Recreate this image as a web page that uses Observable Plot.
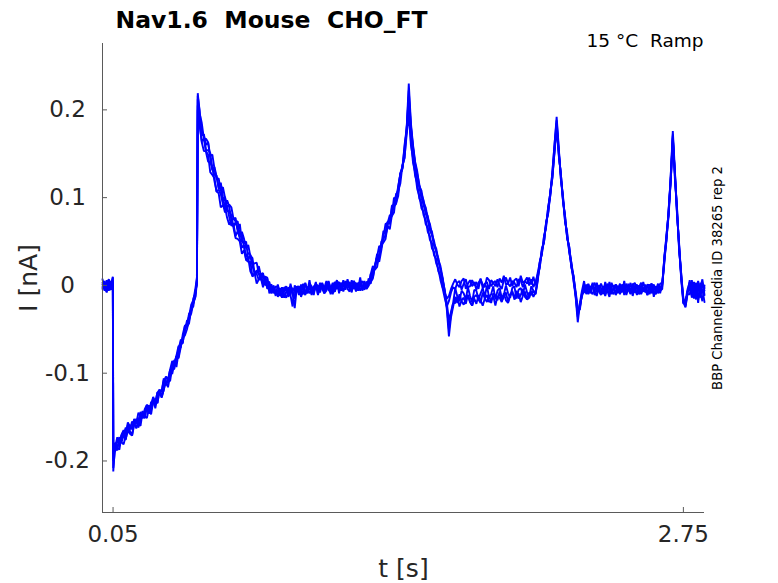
<!DOCTYPE html>
<html><head><meta charset="utf-8">
<script src="https://cdn.jsdelivr.net/npm/d3@7"></script>
<script src="https://cdn.jsdelivr.net/npm/@observablehq/plot@0.6"></script>
<style>html,body{margin:0;padding:0;background:#fff;} #chart svg{display:block}</style>
</head><body><div id="chart"></div>
<script>
// sample times (s)
const t = [
0, 0.01, 0.02, 0.03, 0.04, 0.049,
0.051,
0.06, 0.07, 0.08, 0.09, 0.10, 0.11, 0.12, 0.13, 0.14, 0.15, 0.16, 0.17, 0.18, 0.19, 0.20, 0.21, 0.22, 0.23, 0.24, 0.25, 0.26, 0.27, 0.28, 0.29, 0.30, 0.31, 0.32, 0.33, 0.34, 0.35, 0.36, 0.37, 0.38, 0.39, 0.40, 0.41, 0.42, 0.43, 0.44,
0.447, 0.451,
0.46, 0.47, 0.48, 0.49, 0.50, 0.51, 0.52, 0.53, 0.54, 0.55, 0.56, 0.57, 0.58, 0.59, 0.60, 0.61, 0.62, 0.63, 0.64, 0.65, 0.66, 0.67, 0.68, 0.69, 0.70, 0.71, 0.72, 0.73, 0.74, 0.75, 0.76, 0.77, 0.78, 0.79, 0.80, 0.81, 0.82,
0.83, 0.84, 0.85, 0.86, 0.87, 0.88, 0.89, 0.90, 0.91, 0.92, 0.93, 0.94, 0.95, 0.96, 0.97, 0.98, 0.99, 1.00, 1.01, 1.02, 1.03, 1.04, 1.05, 1.06, 1.07, 1.08, 1.09, 1.10, 1.11, 1.12, 1.13, 1.14, 1.15, 1.16, 1.17, 1.18, 1.19, 1.20, 1.21, 1.22, 1.23, 1.24, 1.25,
1.26, 1.27, 1.28, 1.29, 1.30, 1.31, 1.32, 1.33, 1.34, 1.35, 1.36, 1.37, 1.38, 1.39, 1.40, 1.41, 1.42, 1.43, 1.44, 1.45,
1.46, 1.47, 1.48, 1.49, 1.50, 1.51, 1.52, 1.53, 1.54, 1.55, 1.56, 1.57, 1.58, 1.59, 1.60, 1.61, 1.62, 1.63, 1.64, 1.65, 1.66,
1.67, 1.68, 1.69, 1.70, 1.71, 1.72, 1.73, 1.74, 1.75, 1.76, 1.77, 1.78, 1.79, 1.80, 1.81, 1.82, 1.83, 1.84, 1.85, 1.86, 1.87, 1.88, 1.89, 1.90, 1.91, 1.92, 1.93, 1.94, 1.95, 1.96, 1.97, 1.98, 1.99, 2.00, 2.01, 2.02, 2.03, 2.04, 2.05,
2.06, 2.07, 2.08, 2.09, 2.10, 2.11, 2.12, 2.13, 2.14, 2.15,
2.16, 2.17, 2.18, 2.19, 2.20, 2.21, 2.22, 2.23, 2.24, 2.25, 2.26, 2.27,
2.28, 2.29, 2.30, 2.31, 2.32, 2.33, 2.34, 2.35, 2.36, 2.37, 2.38, 2.39, 2.40, 2.41, 2.42, 2.43, 2.44, 2.45, 2.46, 2.47, 2.48, 2.49, 2.50, 2.51, 2.52, 2.53, 2.54, 2.55, 2.56, 2.57, 2.58, 2.59, 2.60, 2.61, 2.62, 2.63, 2.64,
2.65, 2.66, 2.67, 2.68, 2.69, 2.70,
2.71, 2.72, 2.73, 2.74, 2.75, 2.76, 2.77,
2.78, 2.79, 2.80, 2.81, 2.82, 2.83, 2.84, 2.85
];

// current traces (nA), one per sweep
const sweepA = [
0.003, -0.004, 0.006, -0.002, -0.005, 0.009,
-0.208,
-0.185, -0.188, -0.175, -0.179, -0.181, -0.171, -0.164, -0.169, -0.171, -0.159, -0.155, -0.158, -0.160, -0.144, -0.149, -0.151, -0.140, -0.147, -0.132, -0.132, -0.134, -0.120, -0.128, -0.119, -0.110, -0.116, -0.103, -0.096, -0.095, -0.081, -0.083, -0.071, -0.059, -0.057, -0.050, -0.038, -0.032, -0.020, -0.013,
0.003, 0.219,
0.196, 0.185, 0.167, 0.167, 0.163, 0.148, 0.149, 0.133, 0.121, 0.122, 0.108, 0.112, 0.100, 0.089, 0.092, 0.089, 0.076, 0.073, 0.073, 0.057, 0.061, 0.053, 0.042, 0.046, 0.033, 0.024, 0.025, 0.026, 0.013, 0.013, 0.014, 0.000, 0.004, 0.004, -0.007, -0.007, -0.001,
-0.002, -0.008, -0.011, -0.004, -0.001, -0.013, -0.007, -0.003, -0.007, -0.002, -0.011, -0.003, 0.001, -0.006, -0.009, 0.002, -0.001, -0.008, -0.002, 0.000, -0.008, 0.002, -0.003, 0.005, -0.005, -0.004, 0.003, -0.007, 0.001, 0.003, -0.006, 0.006, -0.002, 0.000, 0.004, -0.004, 0.002, -0.007, 0.003, 0.001, 0.005, -0.001, -0.004,
0.000, 0.013, 0.022, 0.019, 0.033, 0.045, 0.043, 0.055, 0.070, 0.071, 0.080, 0.080, 0.100, 0.098, 0.113, 0.127, 0.133, 0.160, 0.179, 0.230,
0.185, 0.160, 0.141, 0.130, 0.113, 0.108, 0.094, 0.089, 0.076, 0.070, 0.058, 0.050, 0.038, 0.031, 0.018, 0.008, -0.008, -0.027, -0.058, -0.036, -0.024,
-0.013, -0.020, -0.010, -0.018, -0.022, -0.015, -0.011, -0.019, -0.023, -0.013, -0.011, -0.016, -0.020, -0.008, -0.015, -0.019, -0.011, -0.020, -0.009, -0.012, -0.017, -0.007, -0.018, -0.013, -0.008, -0.019, -0.010, -0.008, -0.014, -0.006, -0.015, -0.011, -0.004, -0.013, -0.016, -0.008, -0.011, -0.006, -0.010,
0.006, 0.027, 0.035, 0.056, 0.066, 0.090, 0.102, 0.130, 0.160, 0.192,
0.157, 0.121, 0.102, 0.072, 0.060, 0.037, 0.026, 0.005, -0.013, -0.042, -0.022, -0.012,
-0.006, 0.001, -0.010, -0.003, 0.000, -0.007, 0.003, -0.005, -0.009, -0.001, -0.008, 0.002, -0.004, -0.010, -0.002, 0.001, -0.007, -0.005, 0.000, -0.011, -0.001, -0.003, -0.008, 0.002, -0.006, -0.009, -0.002, 0.003, -0.007, -0.004, 0.000, -0.010, -0.003, 0.001, -0.008, -0.006, 0.002,
0.003, 0.028, 0.058, 0.080, 0.125, 0.176,
0.130, 0.083, 0.045, 0.008, -0.016, -0.024, -0.006,
-0.002, -0.012, 0.004, -0.009, -0.001, -0.014, 0.003, -0.006
];
const sweepB = [
-0.002, 0.005, -0.006, 0.004, 0.001, 0.006,
-0.192,
-0.184, -0.173, -0.181, -0.170, -0.165, -0.169, -0.156, -0.161, -0.163, -0.152, -0.157, -0.145, -0.149, -0.151, -0.141, -0.136, -0.140, -0.136, -0.127, -0.135, -0.122, -0.119, -0.121, -0.106, -0.110, -0.108, -0.096, -0.086, -0.090, -0.080, -0.069, -0.071, -0.056, -0.046, -0.044, -0.035, -0.022, -0.017, -0.003,
0.008, 0.212,
0.182, 0.163, 0.153, 0.153, 0.149, 0.129, 0.126, 0.122, 0.107, 0.105, 0.089, 0.091, 0.089, 0.077, 0.069, 0.074, 0.066, 0.054, 0.053, 0.050, 0.036, 0.040, 0.029, 0.031, 0.016, 0.011, 0.014, 0.002, 0.007, 0.008, -0.002, 0.008, -0.001, -0.001, 0.001, -0.009, -0.005,
-0.013, -0.006, -0.004, -0.014, -0.007, -0.002, -0.011, -0.024, 0.000, -0.006, -0.002, -0.010, 0.002, -0.009, -0.005, -0.003, -0.011, -0.001, -0.001, -0.005, 0.003, -0.004, -0.009, 0.001, 0.004, -0.003, -0.006, -0.007, 0.004, 0.003, -0.006, 0.001, -0.002, 0.005, -0.003, 0.006, -0.004, 0.000, -0.005, 0.002, 0.004, 0.003, -0.002,
0.003, 0.002, 0.019, 0.018, 0.021, 0.035, 0.046, 0.049, 0.053, 0.069, 0.076, 0.079, 0.083, 0.104, 0.108, 0.116, 0.137, 0.145, 0.178, 0.205,
0.165, 0.140, 0.129, 0.110, 0.102, 0.088, 0.084, 0.070, 0.066, 0.052, 0.048, 0.034, 0.030, 0.016, 0.011, -0.002, -0.008, -0.015, -0.012, -0.004, 0.002,
0.007, 0.001, -0.002, 0.005, 0.008, -0.004, 0.002, 0.006, -0.001, 0.004, -0.005, 0.003, 0.007, 0.001, -0.002, 0.009, 0.006, -0.001, 0.003, 0.005, -0.002, 0.008, 0.003, 0.011, 0.001, 0.002, 0.009, -0.001, 0.006, 0.008, -0.001, 0.011, 0.003, 0.005, 0.009, 0.000, 0.007, -0.002, 0.004,
0.012, 0.020, 0.042, 0.049, 0.072, 0.082, 0.107, 0.122, 0.153, 0.185,
0.150, 0.127, 0.096, 0.078, 0.054, 0.043, 0.020, 0.010, -0.007, -0.026, -0.028, -0.008,
-0.008, -0.001, 0.001, -0.009, -0.002, 0.003, -0.006, -0.005, 0.002, -0.004, 0.000, -0.008, 0.004, -0.007, -0.003, -0.001, -0.009, 0.001, -0.002, -0.006, 0.002, -0.005, -0.010, 0.000, 0.003, -0.004, -0.007, -0.001, -0.003, -0.008, 0.001, 0.000, -0.009, -0.002, -0.005, 0.002, -0.006,
-0.004, 0.034, 0.052, 0.085, 0.118, 0.170,
0.121, 0.088, 0.039, 0.013, -0.020, -0.016, -0.010,
-0.010, 0.002, -0.015, -0.004, 0.005, -0.008, -0.018, 0.000
];
const sweepC = [
0.001, -0.006, 0.002, 0.007, -0.003, 0.004,
-0.200,
-0.180, -0.182, -0.182, -0.171, -0.166, -0.175, -0.166, -0.159, -0.164, -0.156, -0.163, -0.153, -0.147, -0.150, -0.151, -0.138, -0.137, -0.142, -0.134, -0.129, -0.134, -0.119, -0.121, -0.108, -0.114, -0.108, -0.096, -0.101, -0.089, -0.080, -0.082, -0.062, -0.062, -0.052, -0.040, -0.040, -0.026, -0.024, -0.006,
0.001, 0.205,
0.182, 0.176, 0.171, 0.154, 0.154, 0.151, 0.133, 0.126, 0.125, 0.112, 0.109, 0.095, 0.101, 0.085, 0.084, 0.080, 0.067, 0.072, 0.064, 0.055, 0.057, 0.044, 0.033, 0.037, 0.035, 0.022, 0.014, 0.017, 0.013, 0.006, 0.012, 0.008, -0.004, 0.000, -0.005, 0.000, -0.010,
-0.005, -0.012, -0.002, -0.010, -0.014, -0.007, -0.003, -0.011, -0.012, -0.003, -0.001, -0.006, -0.010, 0.002, -0.005, -0.009, -0.002, -0.011, 0.002, -0.001, -0.006, 0.003, -0.008, -0.004, 0.001, -0.010, -0.002, 0.000, -0.003, 0.004, -0.005, -0.001, 0.005, -0.004, -0.007, 0.001, -0.002, 0.003, -0.006, 0.002, -0.005, 0.005, -0.003,
0.000, 0.013, 0.009, 0.023, 0.033, 0.033, 0.050, 0.053, 0.057, 0.072, 0.070, 0.088, 0.090, 0.093, 0.112, 0.127, 0.133, 0.152, 0.179, 0.215,
0.180, 0.156, 0.137, 0.121, 0.112, 0.099, 0.092, 0.082, 0.074, 0.063, 0.057, 0.045, 0.039, 0.027, 0.019, 0.006, -0.005, -0.020, -0.040, -0.030, -0.020,
-0.020, -0.013, -0.024, -0.017, -0.014, -0.021, -0.011, -0.019, -0.023, -0.015, -0.021, -0.011, -0.017, -0.023, -0.015, -0.011, -0.019, -0.017, -0.012, -0.023, -0.012, -0.014, -0.019, -0.009, -0.017, -0.020, -0.012, -0.006, -0.016, -0.013, -0.009, -0.019, -0.012, -0.007, -0.016, -0.014, -0.006, -0.013, -0.008,
0.008, 0.021, 0.039, 0.050, 0.070, 0.083, 0.103, 0.125, 0.152, 0.178,
0.152, 0.125, 0.100, 0.076, 0.055, 0.041, 0.025, 0.010, -0.011, -0.033, -0.024, -0.011,
0.000, -0.006, -0.009, -0.002, 0.001, -0.011, -0.005, -0.001, -0.008, -0.003, -0.012, -0.004, 0.000, -0.007, -0.010, 0.001, -0.002, -0.009, -0.005, -0.003, -0.011, -0.001, -0.006, 0.002, -0.008, -0.007, 0.000, -0.010, -0.004, -0.002, -0.011, 0.001, -0.007, -0.005, -0.001, -0.009, -0.003,
0.001, 0.026, 0.054, 0.079, 0.119, 0.165,
0.128, 0.082, 0.044, 0.006, -0.021, -0.018, -0.004,
0.004, -0.009, -0.003, -0.016, 0.002, -0.011, -0.004, -0.019
];
const sweepD = [
-0.004, 0.002, -0.001, -0.006, 0.005, 0.002,
-0.188,
-0.189, -0.178, -0.173, -0.179, -0.170, -0.162, -0.168, -0.164, -0.155, -0.158, -0.152, -0.158, -0.144, -0.151, -0.145, -0.141, -0.145, -0.133, -0.132, -0.133, -0.122, -0.124, -0.126, -0.111, -0.104, -0.106, -0.104, -0.093, -0.089, -0.087, -0.071, -0.064, -0.065, -0.050, -0.045, -0.032, -0.029, -0.015, -0.009,
0.006, 0.200,
0.184, 0.164, 0.167, 0.152, 0.141, 0.140, 0.135, 0.119, 0.107, 0.109, 0.104, 0.093, 0.083, 0.090, 0.078, 0.068, 0.070, 0.056, 0.062, 0.054, 0.043, 0.046, 0.029, 0.027, 0.027, 0.010, 0.013, 0.013, 0.006, 0.012, 0.001, 0.003, 0.008, -0.004, -0.009, -0.003, -0.008,
-0.010, -0.003, -0.014, -0.007, -0.004, -0.011, -0.001, -0.009, -0.026, -0.002, -0.009, 0.001, -0.005, -0.011, -0.003, 0.000, -0.008, -0.006, 0.001, -0.010, 0.000, -0.002, -0.007, 0.003, -0.005, -0.008, -0.001, 0.004, -0.004, -0.001, 0.003, -0.007, 0.000, 0.004, -0.005, -0.003, 0.005, -0.002, 0.002, -0.006, 0.001, -0.005, 0.004,
0.004, 0.004, 0.008, 0.022, 0.032, 0.027, 0.040, 0.055, 0.056, 0.068, 0.064, 0.080, 0.092, 0.094, 0.102, 0.125, 0.136, 0.146, 0.172, 0.195,
0.160, 0.145, 0.125, 0.116, 0.099, 0.094, 0.080, 0.075, 0.061, 0.056, 0.042, 0.038, 0.025, 0.019, 0.006, -0.003, -0.014, -0.024, -0.018, -0.008, -0.002,
-0.004, 0.003, 0.005, -0.005, 0.002, 0.007, -0.002, -0.001, 0.006, 0.000, 0.004, -0.004, 0.008, -0.003, 0.002, 0.004, -0.004, 0.006, 0.003, -0.001, 0.007, 0.000, -0.004, 0.006, 0.009, 0.002, -0.001, 0.005, 0.003, -0.002, 0.007, 0.006, -0.002, 0.005, 0.002, 0.009, 0.001, 0.010, 0.000,
0.014, 0.026, 0.036, 0.055, 0.068, 0.089, 0.105, 0.129, 0.161, 0.188,
0.155, 0.122, 0.098, 0.073, 0.058, 0.038, 0.022, 0.006, -0.010, -0.028, -0.026, -0.009,
-0.001, -0.008, 0.002, -0.006, -0.010, -0.003, 0.001, -0.007, -0.011, -0.002, 0.000, -0.005, -0.009, 0.003, -0.004, -0.008, -0.001, -0.010, 0.001, -0.002, -0.007, 0.002, -0.009, -0.005, 0.000, -0.011, -0.003, -0.001, -0.006, 0.001, -0.008, -0.004, 0.002, -0.007, -0.010, -0.002, -0.005,
-0.001, 0.032, 0.057, 0.083, 0.124, 0.172,
0.124, 0.087, 0.041, 0.012, -0.015, -0.022, -0.007,
-0.005, 0.006, -0.012, -0.002, -0.020, 0.003, -0.008, -0.003
];
const sweepE = [
0.007, -0.003, -0.008, 0.004, 0.001, 0.010,
-0.212,
-0.179, -0.185, -0.187, -0.171, -0.172, -0.176, -0.159, -0.166, -0.171, -0.154, -0.154, -0.162, -0.153, -0.143, -0.151, -0.136, -0.146, -0.140, -0.128, -0.140, -0.127, -0.119, -0.127, -0.119, -0.104, -0.108, -0.109, -0.093, -0.085, -0.093, -0.076, -0.066, -0.066, -0.046, -0.047, -0.043, -0.025, -0.020, -0.012,
0.009, 0.216,
0.199, 0.171, 0.172, 0.160, 0.163, 0.145, 0.131, 0.135, 0.124, 0.110, 0.117, 0.101, 0.088, 0.097, 0.090, 0.074, 0.076, 0.077, 0.062, 0.070, 0.050, 0.048, 0.050, 0.029, 0.034, 0.031, 0.014, 0.014, 0.022, 0.011, 0.002, 0.010, 0.009, -0.009, -0.002, -0.002, -0.012,
0.001, -0.009, -0.014, -0.002, -0.005, -0.012, 0.002, -0.008, -0.015, -0.001, -0.003, -0.013, -0.006, 0.003, -0.007, 0.006, -0.008, -0.004, 0.004, -0.011, -0.001, 0.002, -0.009, -0.006, 0.005, -0.004, -0.010, 0.001, 0.006, -0.009, 0.001, 0.003, -0.005, 0.007, -0.002, -0.008, 0.005, 0.000, -0.004, 0.009, -0.006, 0.002, -0.003,
0.008, 0.004, 0.020, 0.022, 0.036, 0.031, 0.046, 0.062, 0.060, 0.073, 0.071, 0.091, 0.091, 0.104, 0.106, 0.128, 0.135, 0.157, 0.177, 0.222,
0.182, 0.158, 0.139, 0.127, 0.115, 0.104, 0.097, 0.085, 0.079, 0.066, 0.061, 0.047, 0.042, 0.029, 0.022, 0.009, -0.006, -0.024, -0.050, -0.033, -0.020,
-0.003, -0.013, -0.018, -0.006, -0.009, -0.016, -0.002, -0.012, -0.019, -0.005, -0.006, -0.016, -0.009, -0.003, -0.013, 0.000, -0.014, -0.010, -0.001, -0.016, -0.006, -0.003, -0.014, -0.011, 0.000, -0.009, -0.014, -0.003, -0.001, -0.015, -0.005, -0.003, -0.011, 0.001, -0.008, -0.014, -0.001, -0.006, -0.010,
0.004, 0.025, 0.040, 0.049, 0.071, 0.084, 0.106, 0.124, 0.155, 0.182,
0.148, 0.127, 0.097, 0.079, 0.053, 0.044, 0.021, 0.011, -0.012, -0.036, -0.020, -0.006,
0.005, -0.010, -0.002, -0.007, 0.003, -0.007, -0.012, 0.000, -0.003, -0.010, 0.004, -0.006, -0.013, 0.001, -0.001, -0.011, -0.004, 0.002, -0.008, 0.005, -0.009, -0.005, 0.003, -0.012, -0.002, 0.001, -0.010, -0.007, 0.004, -0.005, -0.011, 0.000, 0.002, -0.013, -0.003, -0.001, -0.009,
0.002, 0.030, 0.051, 0.086, 0.120, 0.168,
0.127, 0.080, 0.047, 0.009, -0.019, -0.025, -0.009,
0.006, -0.014, -0.006, 0.003, -0.016, -0.003, 0.007, -0.011
];

const yTicks = [-0.2, -0.1, 0, 0.1, 0.2];
const yTickLabels = ["-0.2", "-0.1", "0", "0.1", "0.2"];
const xTicks = [0.05, 2.75];
const xTickLabels = ["0.05", "2.75"];
const titleText = "Nav1.6\u00a0\u00a0Mouse\u00a0\u00a0CHO_FT";
const subtitleText = "15 °C\u00a0\u00a0Ramp";
const sideNote = "BBP Channelpedia ID 38265 rep 2";
const xLabel = "t [s]";
const yLabel = "I [nA]";

const sweeps = [sweepA, sweepB, sweepC, sweepD, sweepE];
sweeps.forEach((s, k) => { if (s.length !== t.length) throw new Error(`sweep ${k}: ${s.length} values vs ${t.length} times`); });
const rows = sweeps.flatMap((s, k) => s.map((v, j) => ({t: t[j], i: v, sweep: k})));

const W = 778, H = 583, mL = 102, mR = 74, mT = 43, mB = 71;
const xDom = [0, 2.85], yDom = [-0.2587, 0.2756];
const tickPx = 5;
const xTickLen = tickPx * (yDom[1] - yDom[0]) / (H - mT - mB);
const yTickLen = tickPx * (xDom[1] - xDom[0]) / (W - mL - mR);
const ink = "#262626";
const axisInk = "#5a5a5a";

const chart = Plot.plot({
  width: W, height: H,
  marginLeft: mL, marginRight: mR, marginTop: mT, marginBottom: mB,
  x: {domain: xDom, axis: null},
  y: {domain: yDom, axis: null},
  style: {fontFamily: "'DejaVu Sans', sans-serif", background: "#fff", overflow: "visible"},
  marks: [
    Plot.line(rows, {x: "t", y: "i", z: "sweep", stroke: "#0000ff", strokeWidth: 1.9, strokeLinejoin: "miter"}),
    Plot.ruleX([xDom[0]], {stroke: axisInk, strokeWidth: 1}),
    Plot.ruleY([yDom[0]], {stroke: axisInk, strokeWidth: 1}),
    Plot.ruleY(yTicks, {y: d => d, x1: xDom[0], x2: xDom[0] + yTickLen, stroke: axisInk}),
    Plot.ruleX(xTicks, {x: d => d, y1: yDom[0], y2: yDom[0] + xTickLen, stroke: axisInk}),
    Plot.text(yTicks, {y: d => d, text: (d, i) => yTickLabels[i], frameAnchor: "left", dx: -35, textAnchor: "middle", lineAnchor: "middle", fontSize: 23, fill: ink}),
    Plot.text(xTicks, {x: d => d, text: (d, i) => xTickLabels[i], frameAnchor: "bottom", dy: 22, textAnchor: "middle", lineAnchor: "middle", fontSize: 23, fill: ink}),
    Plot.text([xLabel], {text: d => d, frameAnchor: "bottom", dy: 56, textAnchor: "middle", lineAnchor: "middle", fontSize: 25, fill: ink}),
    Plot.text([yLabel], {text: d => d, frameAnchor: "left", dx: -74, rotate: -90, textAnchor: "middle", lineAnchor: "middle", fontSize: 25, fill: ink}),
    Plot.text([titleText], {text: d => d, frameAnchor: "top-left", dx: 13, dy: -23, textAnchor: "start", lineAnchor: "middle", fontSize: 23.5, fontWeight: "bold", fill: "#000"}),
    Plot.text([subtitleText], {text: d => d, frameAnchor: "top-right", dx: -1, dy: -2, textAnchor: "end", lineAnchor: "middle", fontSize: 18.5, fill: "#000"}),
    Plot.text([sideNote], {text: d => d, frameAnchor: "right", dx: 13, rotate: -90, textAnchor: "middle", lineAnchor: "middle", fontSize: 13.2, fill: "#000"})
  ]
});
document.getElementById("chart").appendChild(chart);
</script>
</body></html>
